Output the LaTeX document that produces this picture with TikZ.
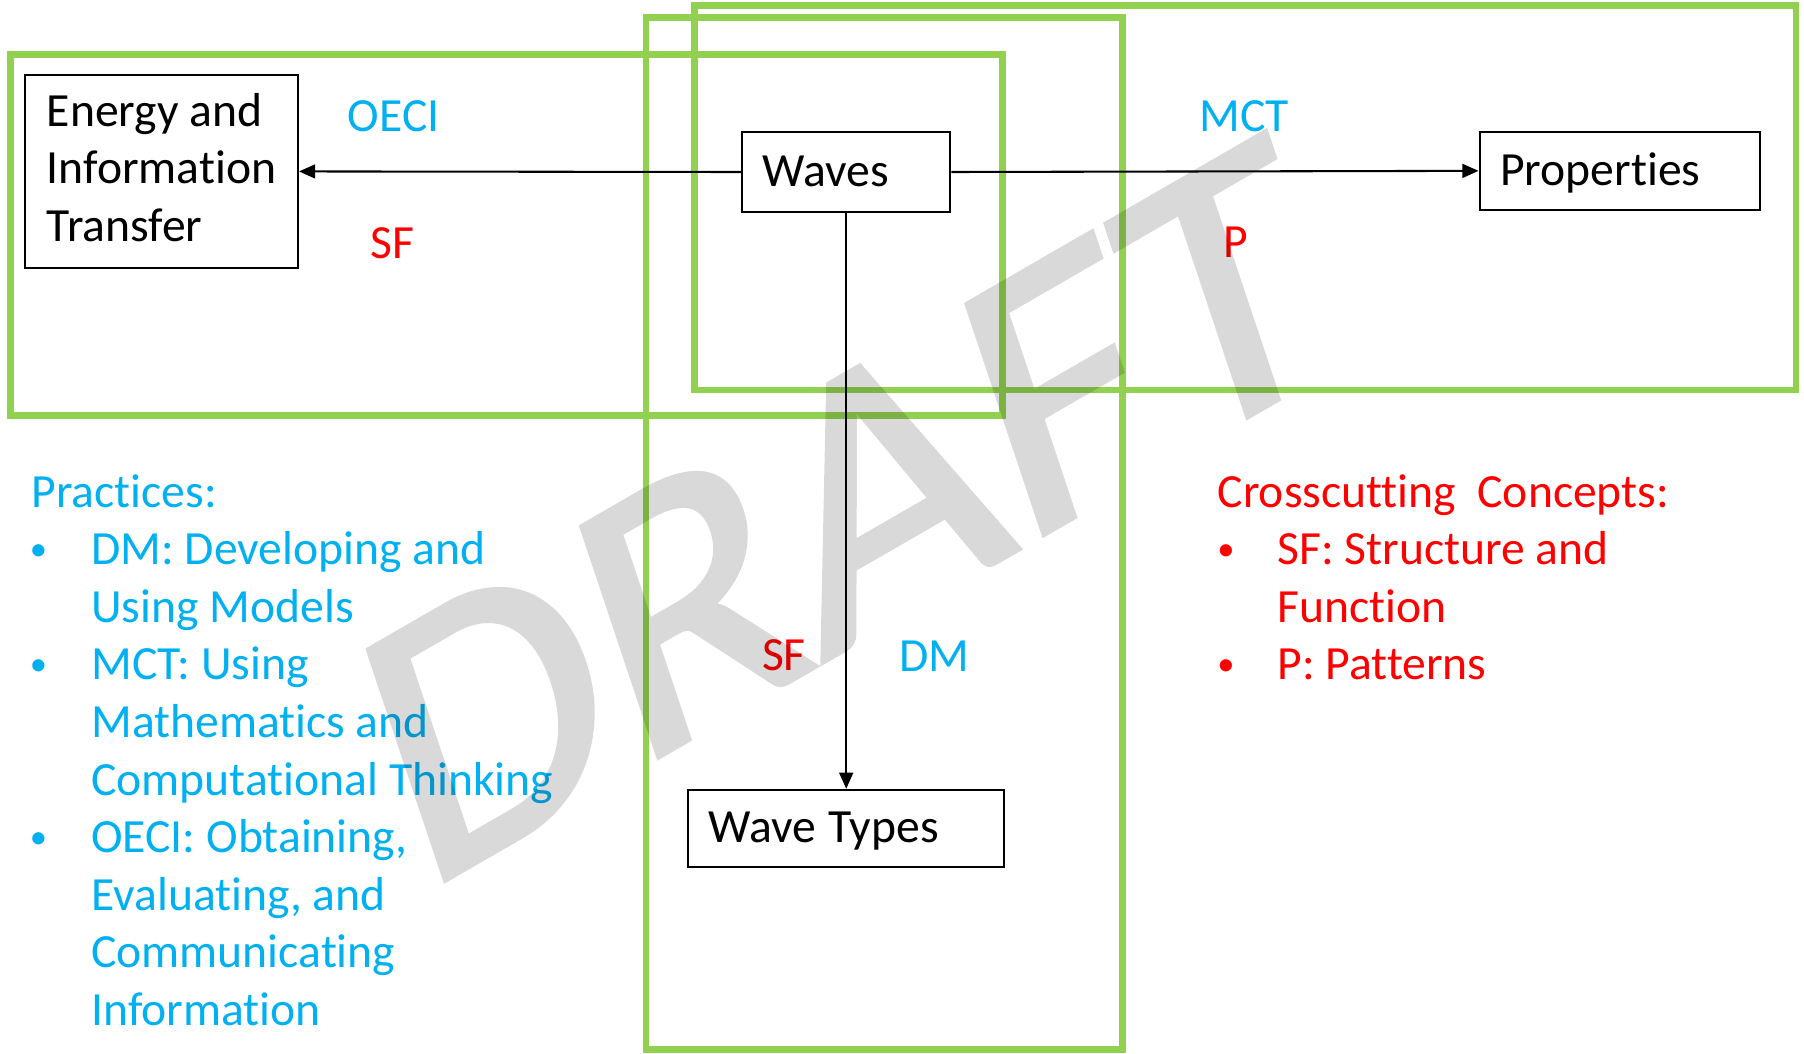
\documentclass[tikz,border=0pt]{standalone}
\usepackage{fontspec}
\setmainfont{Carlito}[Ligatures={CommonOff}]
\newfontfamily\wmfont{Carlito}[FakeBold=1.2]
\usetikzlibrary{arrows.meta}
\definecolor{grn}{HTML}{92D050}
\definecolor{cyn}{HTML}{00B0F0}
\definecolor{rd}{HTML}{FF0000}
\begin{document}
\begin{tikzpicture}[x=0.5pt,y=-0.5pt,
  every node/.style={font=\fontsize{20.7pt}{25pt}\selectfont},
  box/.style={draw=black, line width=0.9pt, inner xsep=9pt, inner ysep=0pt, align=left, text height=16.5pt, text depth=4.1pt},
  gbox/.style={draw=grn, line width=3pt},
  arr/.style={line width=0.9pt, -{Triangle[length=7pt,width=6pt]}},
  lbl/.style={anchor=base west, inner sep=0pt},
  bul/.style={anchor=base, inner sep=0pt, font=\fontsize{15pt}{15pt}\selectfont},
]
\useasboundingbox (0,0) rectangle (1568,915.3);
% green frames
\draw[gbox] (9.5,47) rectangle (871.5,361);
\draw[gbox] (561.5,15) rectangle (975.6,912.5);
\draw[gbox] (603.5,4.5) rectangle (1561,339);
% boxes
\node[draw=black, line width=0.9pt, inner sep=0pt, align=left, minimum width=118.5pt, minimum height=84pt] (energy) at (140.5,149) {Energy and\\Information\\Transfer\rule[-3.5pt]{0pt}{0pt}};
\node[box, text width=72.5pt, minimum height=34.5pt] (waves) at (735.5,149.5) {Waves};
\node[box, text width=104pt, minimum height=33.75pt] (props) at (1408,148.5) {Properties};
\node[box, text width=119.5pt, minimum height=33.5pt] (wtypes) at (735.5,720) {Wave\kern-1.5pt{} Types};
% connectors
\draw[arr] (waves.west) -- (energy.east);
\draw[arr] (waves.east) -- (props.west);
\draw[arr] (waves.south) -- (wtypes.north);
% connector labels
\node[lbl, text=cyn] (oeci) at (302,114) {OECI};
\node[lbl, text=rd] (sfa) at (322,224.5) {SF};
\node[lbl, text=cyn] (mct) at (1042,114) {MCT};
\node[lbl, text=rd] (pa) at (1063,223.6) {P};
\node[lbl, text=rd] (sfb) at (662,582.5) {SF};
\node[lbl, text=cyn] (dma) at (781,584) {DM};
% practices
\node[lbl, text=cyn] (prac) at (27,441) {Practices:};
\node[bul, text=cyn] (pb1) at (33.5,487.5) {•};
\node[lbl, text=cyn] (pl1) at (79,491) {DM: Developing and};
\node[lbl, text=cyn] (pl2) at (79,541) {Using Models};
\node[bul, text=cyn] (pb2) at (33.5,587.5) {•};
\node[lbl, text=cyn] (pl3) at (79,591) {MCT: Using};
\node[lbl, text=cyn] (pl4) at (79,641) {Mathematics and};
\node[lbl, text=cyn] (pl5) at (79,691) {Computational Thinking};
\node[bul, text=cyn] (pb3) at (33.5,737.5) {•};
\node[lbl, text=cyn] (pl6) at (79,741) {OECI: Obtaining,};
\node[lbl, text=cyn] (pl7) at (79,791) {Evaluating, and};
\node[lbl, text=cyn] (pl8) at (79,841) {Communicating};
\node[lbl, text=cyn] (pl9) at (79,891) {Information};
% crosscutting concepts
\node[lbl, text=rd] (cc) at (1058,441) {Crosscutting\ \ Concepts:};
\node[bul, text=rd] (cb1) at (1065.5,487.5) {•};
\node[lbl, text=rd] (cl1) at (1110,491) {SF: Structure and};
\node[lbl, text=rd] (cl2) at (1110,541) {Function};
\node[bul, text=rd] (cb2) at (1065.5,587.5) {•};
\node[lbl, text=rd] (cl3) at (1110,591) {P: Patterns};
% watermark
\begin{scope}[transparency group, opacity=0.15]
\node[anchor=base west, inner sep=0pt, text=black,
      font=\wmfont\fontsize{173pt}{173pt}\selectfont,
      cm={0.866,0.5,-0.302,0.904,(0,0)}] (draft) at (366.4,777.2) {DRAFT};
\end{scope}
\end{tikzpicture}
\end{document}
